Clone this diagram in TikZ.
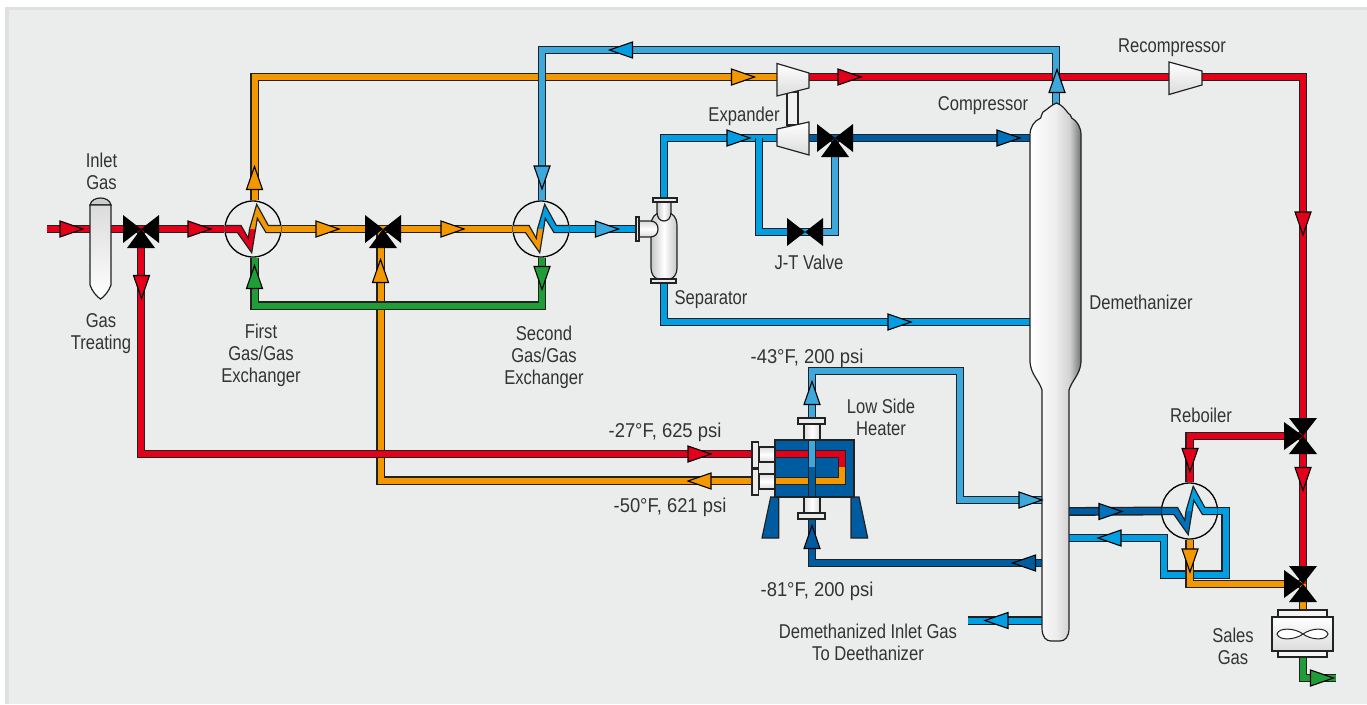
\documentclass[tikz,border=0pt]{standalone}
\usepackage{fontspec}
\setmainfont[FakeStretch=0.83]{Liberation Sans}
\newfontfamily\numfont[FakeStretch=0.92]{Liberation Sans}
\definecolor{cred}{HTML}{E2001A}
\definecolor{corg}{HTML}{F39800}
\definecolor{cgrn}{HTML}{1F9E38}
\definecolor{cpale}{HTML}{3CA8DC}
\definecolor{cmid}{HTML}{009FE3}
\definecolor{cdark}{HTML}{005CA0}
\definecolor{cdk}{HTML}{0071BB}
\definecolor{cbg}{HTML}{EBEDED}
\definecolor{cframe}{HTML}{DFE1E1}
\definecolor{cline}{HTML}{222222}
\definecolor{ctext}{HTML}{333333}
\pgfdeclarehorizontalshading{colgrad}{100bp}{color(0bp)=(white); color(25bp)=(white); color(50bp)=(black!7); color(64bp)=(black!18); color(75bp)=(black!55); color(100bp)=(black!55)}
\tikzset{
  x=1pt,y=-1pt,
  pipe/.style={draw=cline,double=#1,double distance=6pt,line width=1.4pt,line join=miter,line cap=butt},
  solid part/.style={draw=cline,line width=1.2pt,line join=miter},
  metal/.style={solid part,top color=white,bottom color=black!14},
  lbl/.style={font=\fontsize{20}{22}\selectfont,text=ctext,align=center,inner sep=0pt},
  nlbl/.style={lbl,font=\numfont\fontsize{20}{22}\selectfont},
  exch/.style={circle,draw=black,line width=1.3pt,minimum size=56pt,inner sep=0pt},
  pics/flow/.style={code={\filldraw[fill=#1,draw=black,line width=1.1pt,miter limit=10,line join=miter] (-11.5,-8)--(11.5,0)--(-11.5,8)--cycle;}},
  pics/vh/.style={code={\fill[black] (-18,-14)--(18,14)--(18,-14)--(-18,14)--cycle;}},
  pics/vt/.style={code={\fill[black] (-18,-14)--(18,14)--(18,-14)--(-18,14)--cycle;
     \fill[black] (0,0)--(14,19)--(-14,19)--cycle;}},
  pics/vs/.style={code={\fill[black] (-14,-18)--(14,18)--(-14,18)--(14,-18)--cycle;
     \fill[black] (0,0)--(-19,-14)--(-19,14)--cycle;}},
  pics/zig/.style 2 args={code={
     \fill[#1] (-28,-3.6)--(-12,-3.6)--(-4.7,9.3)--(-3.5,0)--(2.6,0)--(-1.3,23.7)--(-15.5,3.6)--(-28,3.6)--cycle;
     \fill[#2] (-3.5,0)--(3.7,-24.7)--(15.3,-3.6)--(28,-3.6)--(28,3.6)--(13,3.6)--(4.3,-10.7)--(2.6,0)--cycle;
     \draw[draw=cline,line width=1.2pt,line join=miter,miter limit=10] (-28,-3.6)--(-12,-3.6)--(-4.7,9.3)--(-3.5,0)--(3.7,-24.7)--(15.3,-3.6)--(28,-3.6) (28,3.6)--(13,3.6)--(4.3,-10.7)--(2.6,0)--(-1.3,23.7)--(-15.5,3.6)--(-28,3.6);
  }}
}
\begin{document}
\begin{tikzpicture}
\useasboundingbox (0,0) rectangle (1367,704);
\fill[white] (0,0) rectangle (1367,704);
\fill[cframe] (5,7) rectangle (1367,704);
\fill[cbg] (9,10) rectangle (1367,704);

% equipment anchor points
\node[exch] (ex1) at (253,229) {};
\node[exch] (ex2) at (541,229) {};
\node[exch] (ex3) at (1189.5,511) {};
\coordinate (inlet) at (47,229);
\coordinate (v1) at (141,229);
\coordinate (v2) at (380.5,229);
\coordinate (v3) at (835,138);
\coordinate (jt) at (805,232);
\coordinate (v4) at (1303,436);
\coordinate (v5) at (1303,584);
\coordinate (cmpIn) at (778,77);
\coordinate (cmpOut) at (808,77);
\coordinate (expIn) at (778,138);
\coordinate (expOut) at (808,138);
\coordinate (recIn) at (1170,77);
\coordinate (recOut) at (1201,77);
\coordinate (sepIn) at (636,229);
\coordinate (sepTop) at (664,200);
\coordinate (sepBot) at (664,281);
\coordinate (colTop) at (1056,110);
\coordinate (colOH) at (1035,138);
\coordinate (colFeed) at (1035,322);
\coordinate (colSide) at (1045,500);
\coordinate (colSideR) at (1045,563);
\coordinate (colRebOut) at (1065,511.5);
\coordinate (colRebIn) at (1065,538);
\coordinate (colBot) at (1045,620.5);
\coordinate (deeth) at (968,620.5);
\coordinate (hIn) at (755,454);
\coordinate (hOut) at (755,480.5);
\coordinate (hTop) at (812,420);
\coordinate (hBot) at (812,519);
\coordinate (branch) at (759,138);
\coordinate (coolTop) at (1303,612);
\coordinate (coolBot) at (1303,655);
\coordinate (sales) at (1336,678);

% pipes, lower layers first
\draw[pipe=corg] ([xshift=1.5pt]ex1.north) |- (cmpIn);
\draw[pipe=cred] (cmpOut) -- (recIn);
\draw[pipe=cred] (recOut) -| (v4);
\draw[pipe=cred] (v4) -- (v5);
\draw[pipe=cred] (inlet) -- (ex1.west);
\draw[pipe=corg] (ex1.east) -- (ex2.west);
\draw[pipe=corg] (v2) |- (hOut);
\draw[pipe=cred] (v1) |- (hIn);
\draw[pipe=cgrn] ([xshift=1.5pt]ex1.south) |- (542,305.5) -- ([xshift=1pt]ex2.south);
\draw[pipe=cpale] ([xshift=1pt]ex2.north) |- (1056,50) -- (colTop);
\draw[pipe=cmid] (ex2.east) -- (sepIn);
\draw[pipe=cmid] (sepTop) |- (expIn);
\draw[pipe=cmid] (sepBot) |- (colFeed);
\draw[pipe=cmid] (branch) |- (jt);
\draw[pipe=cpale] (jt) -| (v3);
\draw[pipe=cdark] (expOut) -- (colOH);
\draw[pipe=cpale] (hTop) |- (960,371) |- (colSide);
\draw[pipe=cdark] (hBot) |- (colSideR);
\draw[pipe=cmid] (colBot) -- (deeth);
\draw[pipe=cmid] (colRebIn) -- (1164,538) |- (1225.5,574.5) |- (ex3.east);
\draw[pipe=cdark] (colRebOut) -- (ex3.west);
\draw[pipe=cred] (v4) -| (ex3.north);
\draw[pipe=corg] (ex3.south) |- (v5);
\draw[pipe=corg] (v5) -- (coolTop);
\draw[pipe=cgrn] (coolBot) |- (sales);

% heat exchanger internals
\pic at (ex1) {zig={cred}{corg}};
\pic at (ex2) {zig={corg}{cmid}};
\pic at (ex3) {zig={cdk}{cmid}};

% inlet knock-out vessel
\draw[solid part,fill=black!20] (90,205) .. controls (91,200) and (96,198) .. (100.5,198) .. controls (105,198) and (110,200) .. (111,205) -- cycle;
\draw[solid part,top color=black!14,bottom color=white] (90,205) -- (90,285) .. controls (92,291) and (97,297) .. (100.5,299) .. controls (104,297) and (109,291) .. (111,285) -- (111,205) -- cycle;

% turbines
\draw[solid part,fill=black!6] (787,92) rectangle (798,125);
\draw[metal] (777,63.5) -- (809,73) -- (809,88) -- (777,96) -- cycle;
\draw[metal] (777,129) -- (809,122) -- (809,155) -- (777,146) -- cycle;
\draw[metal] (1169,62) -- (1202,71) -- (1202,85) -- (1169,94.5) -- cycle;

% valves
\pic at (v1) {vt};
\pic at (383,229) {vt};
\pic at (v3) {vt};
\pic at (jt) {vh};
\pic at (v4) {vs};
\pic at (v5) {vs};

% separator
\draw[solid part,left color=black!22,right color=black!22,middle color=white] (651,226) .. controls (651,216) and (656,214) .. (660,212) -- (668,212) .. controls (672,214) and (677,216) .. (677,226) -- (677,268) .. controls (677,274) and (674,278) .. (670,279) -- (658,279) .. controls (654,278) and (651,274) .. (651,268) -- cycle;
\draw[solid part,left color=black!22,right color=black!22,middle color=white] (657,202) -- (657,212) .. controls (657,218) and (660,221) .. (664,221) .. controls (668,221) and (671,218) .. (671,212) -- (671,202) -- cycle;
\draw[solid part,fill=black!8] (653,198) rectangle (677,202);
\draw[solid part,top color=black!15,bottom color=black!15,middle color=white] (639,221) -- (650,221) .. controls (655,221) and (658,224) .. (658,229) .. controls (658,234) and (655,237) .. (650,237) -- (639,237) -- cycle;
\draw[solid part,fill=black!8] (636,217) rectangle (639,241);
\draw[solid part,fill=black!8] (651,279) rectangle (676,283);

% demethanizer column
\draw[solid part,shade,shading=colgrad] (1056.5,103) .. controls (1062,105) and (1065,109) .. (1068,113) .. controls (1070,114) and (1071,116) .. (1071.7,118) .. controls (1077,121) and (1081,127) .. (1081,135) -- (1081,362) .. controls (1080,375) and (1072,380) .. (1069,390) -- (1069,628) .. controls (1069,637) and (1065,641) .. (1060,641) -- (1051,641) .. controls (1046,641) and (1042,637) .. (1042,628) -- (1042,390) .. controls (1039,380) and (1031,375) .. (1030,362) -- (1030,135) .. controls (1030,127) and (1034,121) .. (1040.7,118) .. controls (1041,116) and (1042,114) .. (1043,112) .. controls (1048,109) and (1051,105) .. (1056.5,103) -- cycle;

% low side heater
\draw[solid part,fill=cdark] (778.7,497) -- (778.7,538) -- (762,538) -- (770.7,497) -- cycle;
\draw[solid part,fill=cdark] (851,497) -- (851,538) -- (867.7,538) -- (859,497) -- cycle;
\draw[solid part,fill=cdark] (775,440) rectangle (854,497);
\draw[pipe=cred] (775,454) -- (842,454) -- (842,467);
\draw[pipe=corg] (842,467) -- (842,481) -- (775,481);
\draw[pipe=cpale] (812,440) -- (812,467);
\draw[pipe=cdark] (812,467) -- (812,497);
\draw[solid part,top color=black!14,bottom color=black!14,middle color=white] (759,447) rectangle (775,462);
\draw[solid part,top color=black!14,bottom color=black!14,middle color=white] (759,474) rectangle (775,489);
\draw[solid part,fill=black!8] (752,442) rectangle (758.5,468);
\draw[solid part,fill=black!8] (752,469) rectangle (758.5,495);
\draw[solid part,left color=black!14,right color=black!14,middle color=white] (804,424) rectangle (820,440);
\draw[solid part,fill=black!8] (798,418) rectangle (825,424);
\draw[solid part,left color=black!14,right color=black!14,middle color=white] (804,497) rectangle (820,513);
\draw[solid part,fill=black!8] (798,513) rectangle (825,519);

% sales gas cooler
\draw[solid part,fill=black!4] (1278,610) rectangle (1327,617);
\draw[solid part,fill=black!4] (1278,651) rectangle (1327,657);
\draw[metal] (1272,617) rectangle (1333,651);
\draw[solid part,fill=white,line width=1pt] (1303,634) .. controls (1295,628) and (1279,627) .. (1277,634) .. controls (1279,641) and (1295,640) .. (1303,634) .. controls (1311,628) and (1326,627) .. (1328,634) .. controls (1326,641) and (1311,640) .. (1303,634) -- cycle;

% flow arrows
\pic[rotate=0] at (71.5,229) {flow=cred};
\pic[rotate=0] at (199.5,229) {flow=cred};
\pic[rotate=-90] at (141.5,287) {flow=cred};
\pic[rotate=0] at (699.5,454) {flow=cred};
\pic[rotate=90] at (254.5,178) {flow=corg};
\pic[rotate=0] at (743,77) {flow=corg};
\pic[rotate=0] at (327.5,229) {flow=corg};
\pic[rotate=0] at (452.5,229) {flow=corg};
\pic[rotate=90] at (380.5,271) {flow=corg};
\pic[rotate=180] at (699.5,481) {flow=corg};
\pic[rotate=90] at (254.5,277) {flow=cgrn};
\pic[rotate=-90] at (542,278) {flow=cgrn};
\pic[rotate=180] at (621,50) {flow=cmid};
\pic[rotate=-90] at (542,177.5) {flow=cpale};
\pic[rotate=90] at (1057,81) {flow=cpale};
\pic[rotate=0] at (607,229) {flow=cpale};
\pic[rotate=0] at (738.5,138) {flow=cmid};
\pic[rotate=0] at (899.5,322) {flow=cmid};
\pic[rotate=0] at (849.5,77) {flow=cred};
\pic[rotate=0] at (1008.5,138) {flow=cdk};
\pic[rotate=-90] at (1303,223.5) {flow=cred};
\pic[rotate=-90] at (1190,460) {flow=cred};
\pic[rotate=-90] at (1303,479) {flow=cred};
\pic[rotate=-90] at (1190,560.5) {flow=corg};
\pic[rotate=0] at (1110.5,511.5) {flow=cdk};
\pic[rotate=180] at (1109.5,538) {flow=cmid};
\pic[rotate=180] at (1024,563) {flow=cdark};
\pic[rotate=0] at (1030.5,500) {flow=cpale};
\pic[rotate=90] at (812,393) {flow=cpale};
\pic[rotate=90] at (812,537) {flow=cdark};
\pic[rotate=180] at (996.5,620.5) {flow=cmid};
\pic[rotate=0] at (1322,678) {flow=cgrn};

% labels
\node[lbl] (l1) at (101.5,171) {Inlet\\Gas};
\node[lbl] (l2) at (101,333.5) {Gas\\Treating};
\node[lbl] (l3) at (261,355.5) {First\\Gas/Gas\\Exchanger};
\node[lbl] (l4) at (544,357.5) {Second\\Gas/Gas\\Exchanger};
\node[lbl] (l5) at (711,299.5) {Separator};
\node[lbl] (l6) at (809,262.5) {J-T Valve};
\node[lbl] (l7) at (744,116.5) {Expander};
\node[lbl] (l8) at (983,105.5) {Compressor};
\node[lbl] (l9) at (1172,47.5) {Recompressor};
\node[lbl] (l10) at (1141,302.5) {Demethanizer};
\node[nlbl] (l11) at (807,358.5) {-43°F, 200 psi};
\node[lbl] (l12) at (881,417) {Low Side\\Heater};
\node[lbl] (l13) at (1201,415) {Reboiler};
\node[nlbl] (l14) at (665,432.5) {-27°F, 625 psi};
\node[nlbl] (l15) at (670,507.5) {-50°F, 621 psi};
\node[nlbl] (l16) at (817,591.5) {-81°F, 200 psi};
\node[lbl] (l17) at (868,642.5) {Demethanized Inlet Gas\\To Deethanizer};
\node[lbl] (l18) at (1233,646.5) {Sales\\Gas};
\end{tikzpicture}
\end{document}
